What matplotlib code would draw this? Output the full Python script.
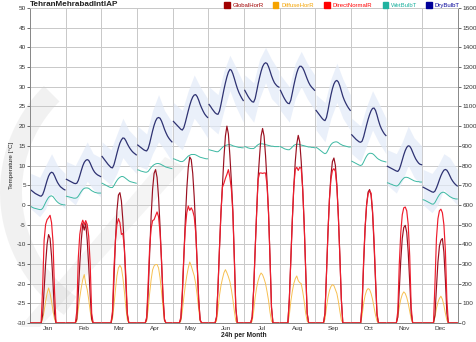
import numpy as np
import matplotlib
matplotlib.use('Agg')
import matplotlib.pyplot as plt
from matplotlib.patches import Wedge, Polygon
from matplotlib.transforms import Affine2D

plt.rcParams['font.family'] = ['Liberation Sans', 'DejaVu Sans']

title = 'TehranMehrabadIntlAP'
months = ['Jan', 'Feb', 'Mar', 'Apr', 'May', 'Jun', 'Jul', 'Aug', 'Sep', 'Oct', 'Nov', 'Dec']
temp_ticks = list(range(-30, 55, 5))
rad_ticks = list(range(0, 1700, 100))

# hourly dry bulb temperature per month [C]
dry_bulb = [
    [3.8,3.5,3.2,2.9,2.7,2.5,2.3,2.2,2.6,3.6,4.9,6.2,7.3,8.0,8.3,8.1,7.4,6.5,5.7,5.1,4.6,4.3,4.0,3.8],
    [6.5,6.3,6.1,5.9,5.7,5.5,5.4,5.5,6.2,7.4,8.7,9.9,10.8,11.3,11.5,11.3,10.6,9.7,8.9,8.3,7.9,7.6,7.4,7.2],
    [12.3,11.8,11.3,10.8,10.3,9.9,9.5,9.4,10.2,11.6,13.1,14.5,15.7,16.5,17.0,16.9,16.3,15.5,14.8,14.2,13.7,13.3,13.0,12.7],
    [15.2,14.9,14.6,14.3,14.0,13.8,13.7,14.3,15.6,17.2,18.8,20.2,21.3,22.0,22.2,22.0,21.3,20.3,19.2,18.3,17.5,16.9,16.4,16.0],
    [21.2,20.8,20.4,20.0,19.6,19.2,19.0,19.6,20.9,22.4,23.9,25.3,26.5,27.4,27.9,28.0,27.5,26.6,25.5,24.6,23.8,23.1,22.6,22.2],
    [25.5,25.0,24.4,23.9,23.4,23.1,23.0,23.8,25.5,27.4,29.3,31.0,32.5,33.7,34.4,34.2,33.3,32.1,30.8,29.6,28.6,27.8,27.1,26.5],
    [29.1,28.4,27.7,27.1,26.6,26.2,26.1,27.0,28.8,30.7,32.4,33.9,35.1,35.8,36.1,35.9,35.1,34.0,32.8,31.8,31.0,30.5,30.1,29.9],
    [29.1,28.3,27.5,26.8,26.2,25.8,25.7,26.6,28.4,30.3,32.0,33.5,34.6,35.2,35.2,34.8,34.0,33.0,32.0,31.1,30.4,29.9,29.5,29.1],
    [24.0,23.5,23.0,22.5,22.0,21.6,21.4,22.2,24.0,26.0,27.9,29.5,30.7,31.4,31.6,31.2,30.2,28.9,27.6,26.6,25.8,25.1,24.5,24.0],
    [17.8,17.4,17.0,16.6,16.3,16.0,15.9,16.2,17.3,18.8,20.3,21.7,22.9,23.9,24.5,24.6,24.0,22.8,21.4,20.2,19.3,18.6,18.0,17.6],
    [9.8,9.6,9.4,9.2,9.0,8.8,8.6,8.5,9.0,10.1,11.4,12.7,13.8,14.6,15.0,14.9,14.3,13.4,12.5,11.7,11.1,10.6,10.3,10.2],
    [4.5,4.3,4.1,3.9,3.7,3.5,3.3,3.2,3.5,4.3,5.3,6.4,7.4,8.2,8.8,9.0,8.8,8.2,7.4,6.6,6.0,5.5,5.1,4.8],
]

# hourly wet bulb temperature per month [C]
wet_bulb = [
    [-0.4,-0.6,-0.8,-0.9,-1.0,-1.1,-1.2,-1.2,-0.9,-0.2,0.6,1.3,1.9,2.2,2.3,2.1,1.6,1.1,0.7,0.4,0.2,0.1,0.0,0.0],
    [2.2,2.1,2.0,1.9,1.8,1.7,1.7,1.8,2.2,2.8,3.4,3.9,4.2,4.3,4.3,4.2,3.9,3.6,3.4,3.2,3.1,3.0,3.0,3.0],
    [5.5,5.3,5.1,4.9,4.7,4.5,4.4,4.4,4.9,5.6,6.2,6.7,7.0,7.2,7.2,7.0,6.7,6.4,6.1,5.9,5.8,5.7,5.6,5.5],
    [8.9,8.8,8.6,8.5,8.4,8.3,8.3,8.5,9.0,9.5,9.9,10.2,10.4,10.5,10.5,10.4,10.2,10.0,9.8,9.6,9.5,9.4,9.3,9.2],
    [11.7,11.6,11.4,11.3,11.1,11.0,11.0,11.2,11.6,12.0,12.4,12.6,12.8,12.8,12.8,12.7,12.5,12.3,12.1,12.0,11.9,11.8,11.7,11.7],
    [14.0,13.9,13.8,13.7,13.6,13.5,13.5,13.8,14.2,14.6,14.9,15.1,15.2,15.3,15.3,15.2,15.0,14.9,14.8,14.7,14.6,14.6,14.5,14.5],
    [14.8,14.7,14.5,14.4,14.3,14.3,14.3,14.6,15.0,15.3,15.5,15.5,15.5,15.4,15.3,15.2,15.1,15.0,14.9,14.9,14.8,14.8,14.8,14.8],
    [14.8,14.6,14.4,14.2,14.1,14.0,14.0,14.3,14.7,15.1,15.3,15.4,15.4,15.3,15.2,15.1,15.0,14.9,14.8,14.7,14.7,14.6,14.6,14.5],
    [14.6,14.4,14.1,13.8,13.5,13.2,13.0,13.2,13.9,14.7,15.3,15.7,15.9,16.0,16.0,15.8,15.5,15.3,15.1,15.0,14.9,14.8,14.7,14.7],
    [11.1,10.9,10.7,10.5,10.3,10.1,10.0,10.2,10.9,11.7,12.4,12.9,13.1,13.1,13.0,12.7,12.3,11.9,11.6,11.4,11.2,11.1,11.0,10.9],
    [5.6,5.5,5.3,5.2,5.0,4.9,4.8,4.9,5.3,5.9,6.4,6.8,7.0,7.0,6.9,6.7,6.5,6.3,6.1,6.0,5.9,5.9,5.8,5.8],
    [1.3,1.2,1.0,0.8,0.6,0.4,0.2,0.2,0.6,1.3,2.0,2.6,3.0,3.2,3.2,3.0,2.7,2.4,2.1,1.9,1.7,1.6,1.5,1.5],
]

# dry bulb range band, sampled at these hours of each month day
band_hours = [0, 6, 10, 14, 18, 23]
band_hi = [
    [8,7,10,13,10,8], [11,10,13,16,13,12], [16,14,18,22,19,17], [20,18,24,28,24,21],
    [26,24,29,33,30,27], [30,28,34,38,35,31], [33,31,37,40,37,34], [33,30,36,39,36,33],
    [28,26,32,36,32,28], [22,20,25,29,26,22], [14,13,16,20,17,15], [9,8,10,13,12,9],
]
band_lo = [
    [-1,-3,-1,3,1,-1], [2,0,3,6,4,2], [7,5,8,12,10,8], [10,9,13,16,14,11],
    [16,14,18,22,20,17], [20,18,24,29,25,21], [24,21,27,31,27,25], [24,21,27,30,27,24],
    [19,16,22,26,22,19], [13,11,15,19,16,13], [5,3,6,10,7,5], [0,-2,0,4,2,0],
]

# solar radiation [W/m2]: first daylight hour per month, then the daylight values
sun_start = [8, 7, 7, 6, 5, 5, 5, 6, 6, 7, 7, 8]
global_hor = [
    [40,170,300,400,449,430,340,200,50],
    [20,150,300,420,505,472,505,420,290,140,20],
    [40,220,420,570,650,662,620,520,380,200,40],
    [20,150,350,540,680,760,779,740,640,490,310,130,15],
    [20,140,330,520,680,790,843,830,760,640,480,300,120,15],
    [30,180,380,560,700,840,950,1000,960,850,720,570,330,80],
    [30,170,370,560,740,850,950,988,950,850,720,560,330,80],
    [120,320,520,690,820,910,953,920,820,680,500,270,50],
    [50,250,460,630,750,820,838,800,700,540,340,120],
    [90,300,480,600,665,678,650,560,400,210,40],
    [30,170,320,430,485,496,460,360,210,50],
    [40,180,310,390,420,429,360,220,50],
]
diffuse_hor = [
    [20,60,110,150,178,150,110,60,20],
    [10,70,130,180,220,246,200,170,120,60,10],
    [20,90,170,240,280,293,280,230,160,80,15],
    [10,70,150,220,270,290,297,297,280,230,160,80,10],
    [10,60,130,190,240,280,310,290,265,240,200,140,70,10],
    [10,70,140,190,225,255,271,255,235,210,170,120,60,10],
    [10,60,130,180,215,240,254,245,225,200,160,115,55,10],
    [40,110,160,200,225,239,215,205,200,160,110,50,10],
    [20,80,130,165,185,195,190,170,150,110,60,15],
    [40,100,140,165,175,170,150,120,80,40,10],
    [30,80,120,145,158,150,130,100,60,20],
    [30,75,105,125,136,120,90,50,15],
]
direct_normal = [
    [180,420,500,525,535,547,510,410,160],
    [60,330,450,500,522,500,520,500,440,300,50],
    [60,280,420,500,530,510,450,455,380,240,50],
    [30,200,380,480,520,525,545,564,540,460,320,140,20],
    [30,160,340,480,560,594,572,585,570,540,460,300,120,15],
    [30,180,380,560,690,710,735,755,779,740,680,560,320,70],
    [30,170,370,560,730,762,762,760,762,762,700,560,330,80],
    [120,320,520,690,780,791,775,791,785,680,500,270,50],
    [50,250,460,630,730,775,784,770,690,540,340,120],
    [100,320,490,600,655,670,660,570,420,230,50],
    [60,300,460,550,585,589,570,500,340,80],
    [200,430,530,570,578,560,500,370,120],
]

C_GLOBAL = '#9a1020'
C_DIFFUSE = '#f7c050'
C_DIRECT = '#ee1c2c'
C_WET = '#3cb8a2'
C_DRY = '#2e3272'
C_BAND = '#e2eaf8'

fig = plt.figure(figsize=(4.76, 3.42), dpi=100)
ax = fig.add_axes([30 / 476, 1 - 323 / 342, 428 / 476, 315 / 342])
ax.patch.set_alpha(0)
ax2 = ax.twinx()

# faint background watermark (pixel coordinates, origin bottom-left)
px = Affine2D().scale(0.01) + fig.dpi_scale_trans
fig.patches.append(Wedge((150, 150), 150, 135, 235, width=22, transform=px,
                         facecolor='#9a9a9a', alpha=0.13, lw=0, zorder=-5, figure=fig))
fig.patches.append(Polygon([(20, 15), (40, 15), (185, 175), (165, 185)], closed=True,
                           transform=px, facecolor='#9a9a9a', alpha=0.10, lw=0,
                           zorder=-5, figure=fig))

hours = np.arange(24)


def day_series(start, vals):
    full = np.zeros(24)
    full[start:start + len(vals)] = vals
    return full


for m in range(12):
    x = m + (hours + 0.5) / 24
    xb = m + (np.array(band_hours) + 0.5) / 24
    xb[0] = m + 0.02
    xb[-1] = m + 0.98
    ax.fill_between(xb, band_lo[m], band_hi[m], color=C_BAND, alpha=0.7, lw=0, zorder=1)
    ax.plot(x, wet_bulb[m], color=C_WET, lw=0.7, zorder=4)
    ax.plot(x, dry_bulb[m], color=C_DRY, lw=0.9, zorder=5)
    ax2.plot(x, day_series(sun_start[m], global_hor[m]), color=C_GLOBAL, lw=0.85, zorder=3)
    ax2.plot(x, day_series(sun_start[m], diffuse_hor[m]), color=C_DIFFUSE, lw=0.7, zorder=2)
    ax2.plot(x, day_series(sun_start[m], direct_normal[m]), color=C_DIRECT, lw=0.85, zorder=4)

ax.set_xlim(0, 12)
ax.set_ylim(-30, 50)
ax2.set_ylim(0, 1600)
ax.set_yticks(temp_ticks)
ax.set_yticklabels([str(t) for t in temp_ticks])
ax2.set_yticks(rad_ticks)
ax2.set_yticklabels([str(t) for t in rad_ticks])
ax.set_xticks(np.arange(12) + 0.5)
ax.set_xticklabels(months)
ax.set_xticks(np.arange(13), minor=True)
ax.tick_params(axis='x', which='major', length=0, labelsize=4.6, pad=2, colors='#333333')
ax.tick_params(axis='x', which='minor', length=0)
ax.tick_params(axis='y', length=2, width=0.5, labelsize=4.6, pad=1, colors='#333333')
ax2.tick_params(axis='y', length=2, width=0.5, labelsize=4.6, pad=1, colors='#333333')
ax.grid(True, which='major', axis='y', color='#c8c8c8', lw=0.7, zorder=0)
ax.grid(True, which='minor', axis='x', color='#c8c8c8', lw=0.7, zorder=0)
ax.set_axisbelow(True)
for a in (ax, ax2):
    for s in a.spines.values():
        s.set_color('#888888')
        s.set_linewidth(0.6)
    a.spines['top'].set_color('#c8c8c8')

ax.set_ylabel('Temperature [°C]', fontsize=4.5, labelpad=2, color='#222222')
ax.set_xlabel('24h per Month', fontsize=4.8, fontweight='bold', labelpad=1, color='#222222')

fig.text(30 / 476, 1 - 4.5 / 342, title, fontsize=5.9, fontweight='bold', color='#222222',
         ha='left', va='center')

legend_items = [
    ('GlobalHorR', '#a00000', 224),
    ('DiffuseHorR', '#f5a300', 272.5),
    ('DirectNormalR', '#ff0000', 324),
    ('WetBulbT', '#20b2a0', 382.5),
    ('DryBulbT', '#000099', 426),
]
for label, col, xs in legend_items:
    fig.patches.append(plt.Rectangle((xs / 476, 1 - 8 / 342), 5.5 / 476, 5.5 / 342,
                                     transform=fig.transFigure, color=col, figure=fig))
    fig.text((xs + 8.5) / 476, 1 - 5.2 / 342, label, fontsize=4.3, color=col,
             ha='left', va='center')

fig.savefig('out.png', dpi=100, facecolor='white')
